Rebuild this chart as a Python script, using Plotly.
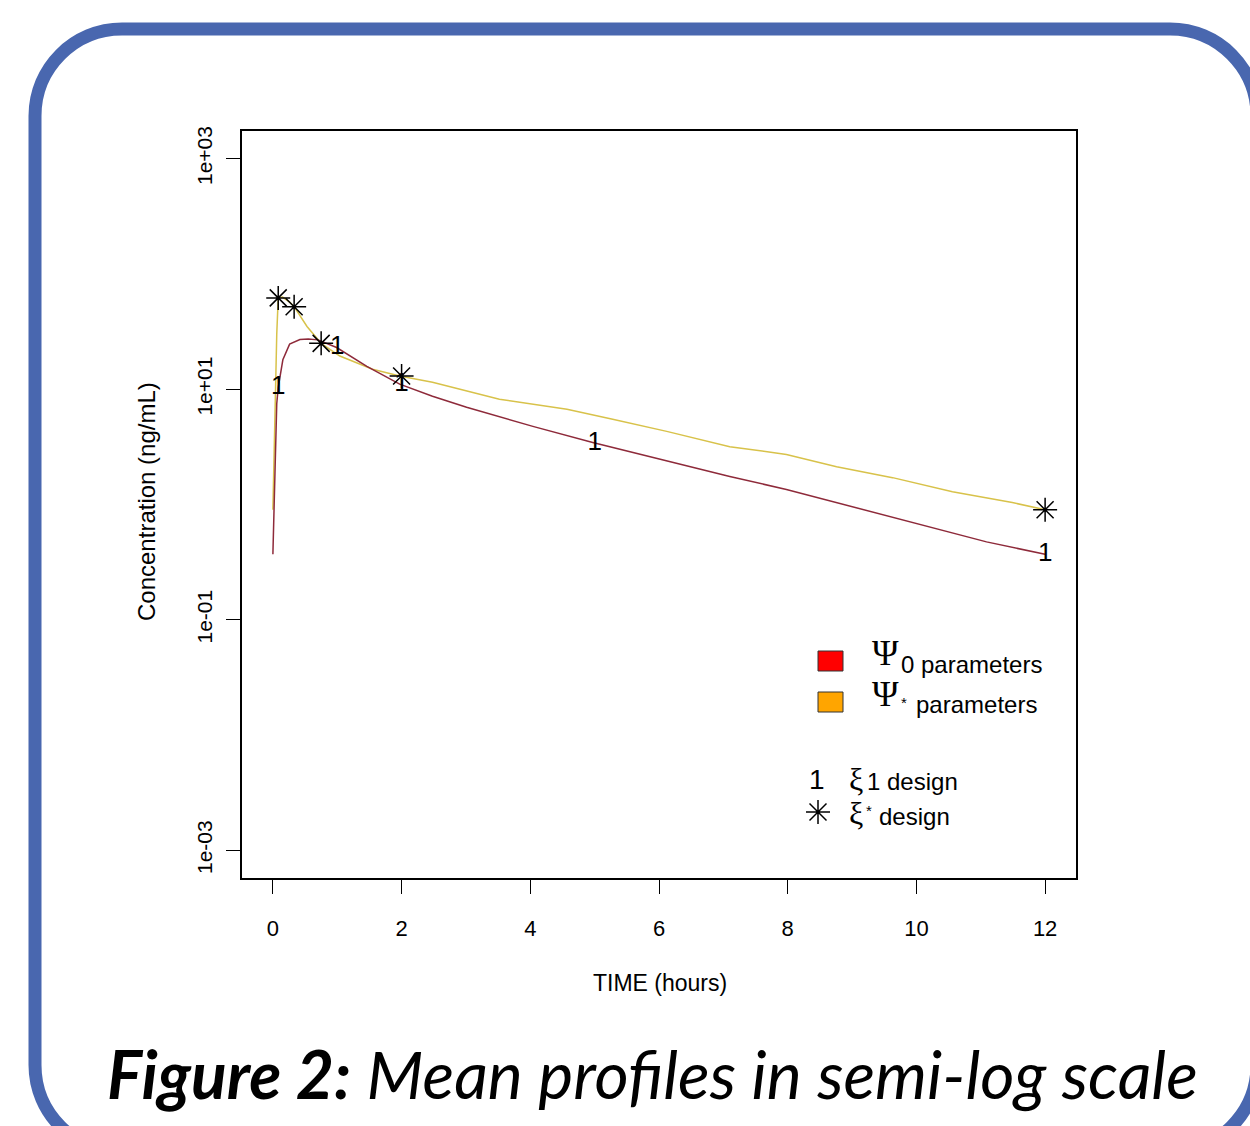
import plotly.graph_objects as go

# ---------------- data ----------------
red_t = [0, 0.02, 0.04, 0.06, 0.083, 0.155, 0.26, 0.42, 0.55, 0.70, 0.99, 1.46, 1.97,
         2.48, 3.01, 4.04, 4.97, 5.59, 6.37, 7.10, 7.98, 9.01, 10.05, 11.09, 12]
red_c = [0.37, 1.2, 3.5, 7.5, 10.4, 18, 24.6, 27, 27.3, 26.8, 23, 15.8, 11.06,
         8.69, 6.97, 4.76, 3.45, 2.82, 2.22, 1.75, 1.35, 0.957, 0.667, 0.474, 0.37]

yel_t = [0, 0.02, 0.04, 0.06, 0.083, 0.15, 0.26, 0.33, 0.53, 0.75, 1.04, 1.55, 1.97,
         2.48, 3.52, 4.57, 5.28, 6.12, 7.10, 7.98, 8.76, 9.63, 10.56, 11.49, 12]
yel_c = [0.9, 3, 10, 30, 62, 63, 57, 52, 35, 25, 19.4, 14.9, 13,
         11.5, 8.18, 6.70, 5.48, 4.31, 3.17, 2.72, 2.13, 1.71, 1.29, 1.04, 0.90]

xi1_t = [0.083, 1, 2, 5, 12]
xi1_c = [10.4, 23, 11.0, 3.4, 0.37]
xis_t = [0.083, 0.33, 0.75, 2, 12]
xis_c = [62, 52, 25, 13, 0.9]

x_ticks = [0, 2, 4, 6, 8, 10, 12]
y_ticks = [1e-3, 1e-1, 1e1, 1e3]
y_ticktext = ["1e-03", "1e-01", "1e+01", "1e+03"]

# ---------------- layout geometry ----------------
W, H = 1250, 1126
L, R, T, B = 242, 1076, 131, 878
SANS = "Liberation Sans, Arial, Helvetica"
SERIF = "Liberation Serif, Times New Roman, DejaVu Serif"


def px(x):
    return (x - L) / (R - L)


def py(y):
    return (B - y) / (B - T)


fig = go.Figure()
fig.add_trace(go.Scatter(x=yel_t, y=yel_c, mode="lines",
                         line=dict(color="#D8C24A", width=1.5), showlegend=False))
fig.add_trace(go.Scatter(x=red_t, y=red_c, mode="lines",
                         line=dict(color="#8E2A3A", width=1.5), showlegend=False))
fig.add_trace(go.Scatter(x=xis_t, y=xis_c, mode="markers",
                         marker=dict(symbol="asterisk-open", size=20, color="black",
                                     line=dict(color="black", width=1.5)),
                         showlegend=False))
fig.add_trace(go.Scatter(x=xi1_t, y=xi1_c, mode="text", text=["1"] * len(xi1_t),
                         textposition="middle center",
                         textfont=dict(family=SANS, size=26, color="black"),
                         showlegend=False))

anns = []


def ann(text, x, y, size, family=SANS, xanchor="left", yanchor="middle", **kw):
    anns.append(dict(text=text, x=px(x), y=py(y), xref="paper", yref="paper",
                     xanchor=xanchor, yanchor=yanchor, showarrow=False,
                     font=dict(family=family, size=size, color="black"), **kw))


# axis titles
ann("TIME (hours)", 660, 983, 23, xanchor="center")
ann("Concentration (ng/mL)", 147, 502, 24, xanchor="center", textangle=-90)

# legend
ann("\u03A8", 885, 653, 36, family=SERIF, xanchor="center")
ann("0 parameters", 899, 664, 24)
ann("\u03A8", 885, 694, 36, family=SERIF, xanchor="center")
ann("*", 904, 702, 15, xanchor="center")
ann("parameters", 914, 704, 24)
ann("1", 817, 779, 28, xanchor="center")
ann("\u03BE", 856, 779, 32, family=SERIF, xanchor="center")
ann("1 design", 865, 781, 24)
ann("\u03BE", 856, 813, 32, family=SERIF, xanchor="center")
ann("*", 869, 810, 15, xanchor="center")
ann("design", 877, 816, 24)

# caption
ann("<b><i>Figure 2:</i></b><i> Mean profiles in semi-log scale</i>", 652, 1073, 66,
    family="Lato, Open Sans, Noto Sans", xanchor="center")

shapes = []
# legend squares
shapes.append(dict(type="rect", xref="paper", yref="paper", x0=px(818), x1=px(843),
                   y0=py(671), y1=py(651), fillcolor="#FF0000",
                   line=dict(color="#333333", width=1)))
shapes.append(dict(type="rect", xref="paper", yref="paper", x0=px(818), x1=px(843),
                   y0=py(712), y1=py(692), fillcolor="#FFA500",
                   line=dict(color="#333333", width=1)))

# legend asterisk drawn as a marker in paper space
fig.add_trace(go.Scatter(x=[px(818)], y=[py(812)], xaxis="x2", yaxis="y2", mode="markers",
                         marker=dict(symbol="asterisk-open", size=20, color="black",
                                     line=dict(color="black", width=1.5)),
                         showlegend=False, hoverinfo="skip"))

# rounded blue border (centre line)
bx0, by0, bx1, by1, rad = 35, 29, 1257, 1152, 87
k = 0.5523 * rad


def P(x, y):
    return f"{px(x):.5f},{py(y):.5f}"


path = (f"M {P(bx0 + rad, by0)} L {P(bx1 - rad, by0)} "
        f"C {P(bx1 - rad + k, by0)} {P(bx1, by0 + rad - k)} {P(bx1, by0 + rad)} "
        f"L {P(bx1, by1 - rad)} "
        f"C {P(bx1, by1 - rad + k)} {P(bx1 - rad + k, by1)} {P(bx1 - rad, by1)} "
        f"L {P(bx0 + rad, by1)} "
        f"C {P(bx0 + rad - k, by1)} {P(bx0, by1 - rad + k)} {P(bx0, by1 - rad)} "
        f"L {P(bx0, by0 + rad)} "
        f"C {P(bx0, by0 + rad - k)} {P(bx0 + rad - k, by0)} {P(bx0 + rad, by0)} Z")
shapes.append(dict(type="path", xref="paper", yref="paper", path=path,
                   line=dict(color="#4967AF", width=13), layer="below"))

fig.update_layout(
    width=W, height=H,
    margin=dict(l=L, r=W - R, t=T, b=H - B),
    paper_bgcolor="white", plot_bgcolor="white",
    showlegend=False,
    annotations=anns, shapes=shapes,
    xaxis=dict(range=[-0.48, 12.48], tickvals=x_ticks, showgrid=False, zeroline=False,
               showline=True, mirror=True, linecolor="black", linewidth=1.5,
               ticks="outside", ticklen=14, tickwidth=1.2, tickcolor="black",
               ticklabelstandoff=16,
               tickfont=dict(family=SANS, size=22, color="black")),
    yaxis=dict(type="log", range=[-3.24, 3.24], tickvals=y_ticks, ticktext=y_ticktext,
               tickangle=-90, showgrid=False, zeroline=False,
               showline=True, mirror=True, linecolor="black", linewidth=1.5,
               ticks="outside", ticklen=14, tickwidth=1.2, tickcolor="black",
               ticklabelstandoff=6,
               tickfont=dict(family=SANS, size=21, color="black")),
    xaxis2=dict(range=[0, 1], overlaying="x", visible=False, fixedrange=True),
    yaxis2=dict(range=[0, 1], overlaying="y", visible=False, fixedrange=True),
)

fig.write_html("out.html", config={"displayModeBar": False},
               post_script="document.body.style.margin='0';")
